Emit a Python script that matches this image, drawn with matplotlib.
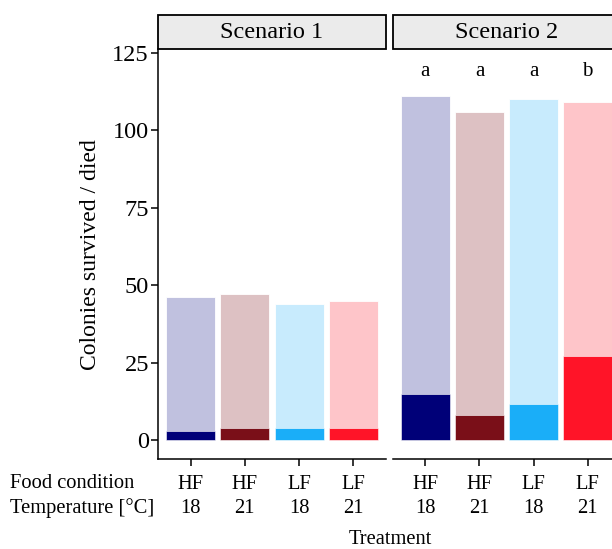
import matplotlib
matplotlib.use("Agg")
import matplotlib.pyplot as plt
from matplotlib.patches import Rectangle

plt.rcParams['font.family'] = ['Liberation Serif', 'DejaVu Serif']

# ---- data ----
scenarios = ["Scenario 1", "Scenario 2"]
food = ["HF", "HF", "LF", "LF"]
temperature = ["18", "21", "18", "21"]
total_s1 = [46, 47, 44, 45]
died_s1 = [3, 4, 4, 4]
total_s2 = [111, 106, 110, 109]
died_s2 = [15, 8, 11.5, 27]
letters_s2 = ["a", "a", "a", "b"]

dark_colors = ["#000078", "#7A0F18", "#1AAEF8", "#FF1428"]
light_colors = ["#C0C1DF", "#DDC1C3", "#C8EBFD", "#FEC5C9"]

W, H = 612, 549
fig = plt.figure(figsize=(W / 100, H / 100), dpi=100)

def fx(px):
    return px / W

def fy(py):
    return 1 - py / H

ax_top, ax_bot = 49.3, 459
panels = [(158, 386), (393, 620)]
totals = [total_s1, total_s2]
dieds = [died_s1, died_s2]

xpos = [1, 2, 3, 4]
ticklabels = [f"{f}\n{t}" for f, t in zip(food, temperature)]

axes = []
for i, (l, r) in enumerate(panels):
    ax = fig.add_axes([fx(l), fy(ax_bot), fx(r - l), fy(ax_top) - fy(ax_bot)])
    axes.append(ax)
    ax.bar(xpos, totals[i], width=0.9, color=light_colors, edgecolor="white", linewidth=0.6, zorder=2)
    ax.bar(xpos, dieds[i], width=0.9, color=dark_colors, edgecolor="white", linewidth=0.4, zorder=3)
    ax.set_xlim(0.4, 4.6)
    ax.set_ylim(-6.13, 126.1)
    for s in ["top", "right"]:
        ax.spines[s].set_visible(False)
    ax.spines["bottom"].set_linewidth(1.1)
    ax.spines["left"].set_linewidth(1.1)
    ax.set_xticks(xpos)
    ax.set_xticklabels(ticklabels, fontsize=14.8, linespacing=1.33)
    ax.tick_params(axis="x", length=5, width=1.1, pad=6.5)
    if i == 0:
        ax.set_yticks([0, 25, 50, 75, 100, 125])
        ax.tick_params(axis="y", length=5, width=1.1, pad=1.5, labelsize=17.5)
    else:
        ax.spines["left"].set_visible(False)
        ax.set_yticks([])
    ax.patch.set_alpha(0)
    # strip
    strip = Rectangle((fx(l), fy(ax_top)), fx(r - l), fy(15) - fy(ax_top),
                      transform=fig.transFigure, facecolor="#EBEBEB",
                      edgecolor="black", linewidth=1.3, clip_on=False)
    fig.add_artist(strip)
    fig.text(fx((l + r) / 2), fy(32), scenarios[i],
             ha="center", va="center", fontsize=17.5)

for x, lab in zip(xpos, letters_s2):
    axes[1].text(x, 117.5, lab, ha="center", va="baseline", fontsize=15)

axes[0].set_ylabel("Colonies survived / died", fontsize=17, labelpad=8)

fig.text(fx(10), fy(487.5), "Food condition", ha="left", va="baseline", fontsize=14.8)
fig.text(fx(10), fy(513.5), "Temperature [°C]", ha="left", va="baseline", fontsize=14.8)
fig.text(fx(390), fy(544), "Treatment", ha="center", va="baseline", fontsize=14.8)

fig.savefig("out.png", dpi=100)
